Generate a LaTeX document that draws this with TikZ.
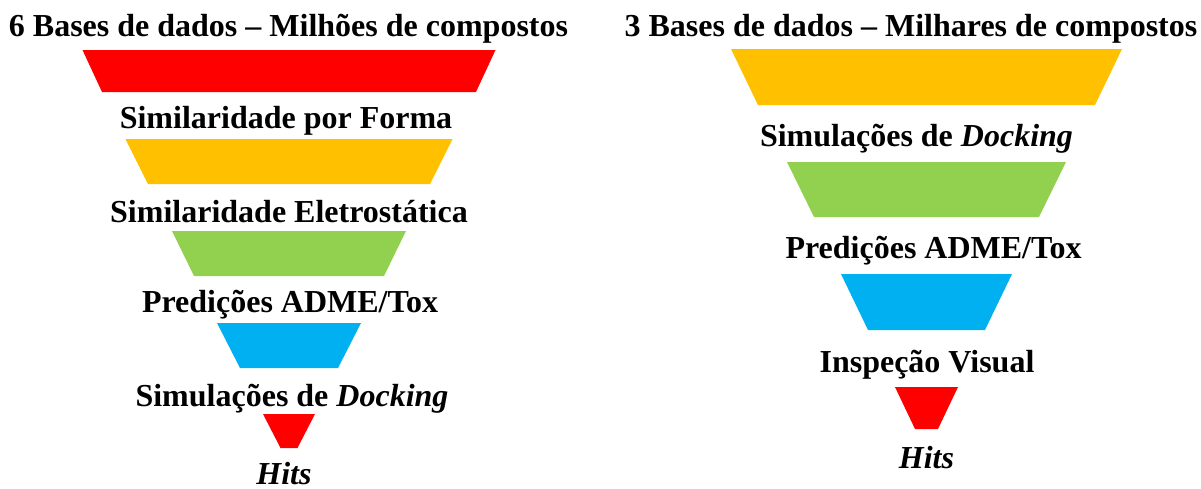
\documentclass[tikz,border=0pt]{standalone}
\usepackage{fontspec}
\setmainfont{Liberation Serif}
\definecolor{fred}{HTML}{FF0000}
\definecolor{forange}{HTML}{FFC000}
\definecolor{fgreen}{HTML}{92D050}
\definecolor{fblue}{HTML}{00B0F0}
\newcommand\fseg[6]{\fill[#1] ({#2-#5},#3) -- ({#2+#5},#3) -- ({#2+#6},#4) -- ({#2-#6},#4) -- cycle;}
\begin{document}
\begin{tikzpicture}[x=0.5pt,y=-0.5pt,
  lbl/.style={inner sep=0pt,anchor=base,font=\fontsize{16}{19}\selectfont\bfseries}]
\useasboundingbox (0,0) rectangle (1201,488);
% left funnel
\fseg{fred}{289}{50}{92}{206.5}{187}
\fseg{forange}{289}{139}{184}{163.5}{141}
\fseg{fgreen}{289}{231}{276}{117}{95}
\fseg{fblue}{289}{323}{368}{72}{49}
\fseg{fred}{289}{414}{448}{26}{8.5}
\node[lbl] (lt) at (288.5,36) {6 Bases de dados – Milhões de compostos};
\node[lbl] (l1) at (286,128) {Similaridade por Forma};
\node[lbl] (l2) at (289,222) {Similaridade Eletrostática};
\node[lbl] (l3) at (290,312) {Predições ADME/Tox};
\node[lbl] (l4) at (292,406) {Simulações de \textit{Docking}};
\node[lbl] (l5) at (284,484) {\textit{Hits}};
% right funnel
\fseg{forange}{926.5}{49}{105}{195.5}{168.5}
\fseg{fgreen}{926.5}{162}{217}{139.5}{112.5}
\fseg{fblue}{926.5}{274}{330}{85.5}{58.5}
\fseg{fred}{926.5}{387}{429}{31.5}{11.5}
\node[lbl] (rt) at (911,36) {3 Bases de dados – Milhares de compostos};
\node[lbl] (r1) at (916.5,146) {Simulações de \textit{Docking}};
\node[lbl] (r2) at (933.5,258) {Predições ADME/Tox};
\node[lbl] (r3) at (927,372) {Inspeção Visual};
\node[lbl] (r4) at (926.5,468) {\textit{Hits}};
\end{tikzpicture}
\end{document}
